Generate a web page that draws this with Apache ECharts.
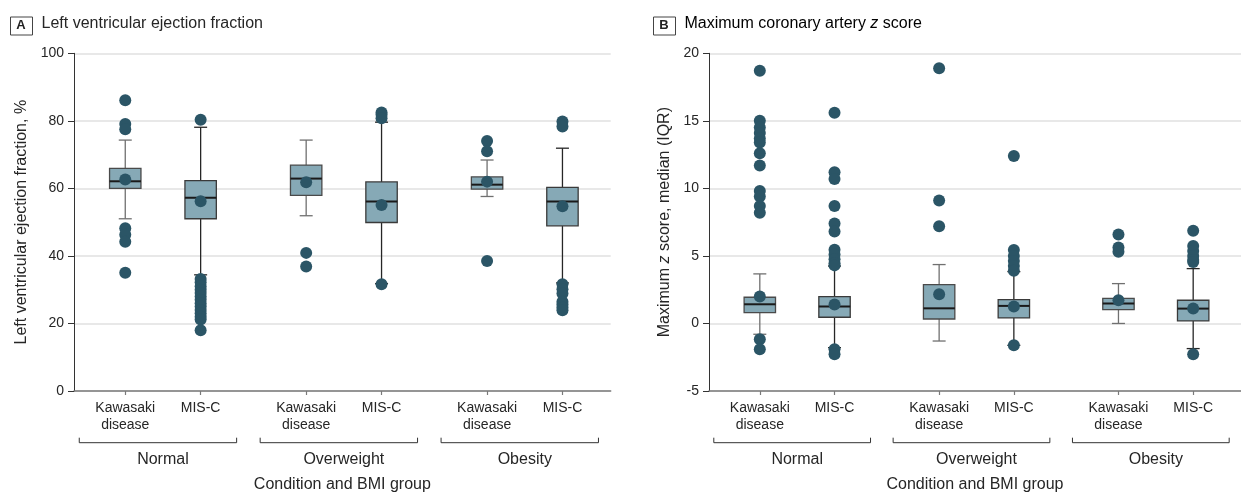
<!DOCTYPE html>
<html><head><meta charset="utf-8">
<script src="https://cdn.jsdelivr.net/npm/echarts@6/dist/echarts.min.js"></script>
<style>html,body{margin:0;padding:0;background:#fff}#c{width:1241px;height:498px}</style>
</head><body><div id="c"></div>
<script>
// ---------- data ----------
const categories = ['Kawasaki\ndisease', 'MIS-C', 'Kawasaki\ndisease', 'MIS-C', 'Kawasaki\ndisease', 'MIS-C'];
const conditionKind = [0, 1, 0, 1, 0, 1];
const groups = ['Normal', 'Overweight', 'Obesity'];
const xPositions = [0, 1, 2.4, 3.4, 4.8, 5.8];

// LVEF: [lower whisker, Q1, median, Q3, upper whisker]
const lvefBoxes = [
  [51.0, 60.0, 62.1, 65.9, 74.3],
  [34.4, 51.0, 57.2, 62.3, 78.1],
  [51.9, 57.9, 62.9, 66.9, 74.3],
  [31.8, 49.9, 56.1, 61.9, 79.6],
  [57.6, 59.8, 61.1, 63.4, 68.4],
  [32.0, 48.9, 56.1, 60.3, 71.9]
];
const lvefMeans = [62.6, 56.2, 61.8, 55.1, 62.0, 54.7];
const lvefOutliers = [
  [86.1, 79.1, 77.5, 48.2, 46.3, 44.2, 35.0],
  [80.3, 33.2, 32.2, 31.0, 30.0, 29.0, 28.0, 27.0, 26.0, 25.0, 24.0, 23.0, 22.0, 21.2, 18.0],
  [40.9, 36.9],
  [82.5, 81.8, 80.8, 31.6],
  [74.0, 71.0, 38.5],
  [79.8, 78.3, 31.6, 30.1, 28.9, 26.4, 25.6, 24.7, 23.9]
];

// Max coronary artery z score
const zBoxes = [
  [-0.80, 0.80, 1.42, 1.94, 3.67],
  [-1.79, 0.46, 1.25, 1.99, 4.25],
  [-1.30, 0.33, 1.12, 2.88, 4.36],
  [-1.62, 0.41, 1.30, 1.77, 3.84],
  [0.00, 1.02, 1.47, 1.86, 2.95],
  [-1.86, 0.19, 1.10, 1.72, 4.06]
];
const zMeans = [1.99, 1.40, 2.16, 1.25, 1.72, 1.10];
const zOutliers = [
  [18.7, 15.0, 14.5, 14.1, 13.7, 13.4, 12.6, 11.7, 9.8, 9.4, 8.7, 8.2, -1.17, -1.91],
  [15.6, 11.2, 10.7, 8.7, 7.4, 6.8, 5.45, 5.1, 4.75, 4.45, 4.3, -1.9, -2.28],
  [18.9, 9.1, 7.2],
  [12.4, 5.44, 5.0, 4.63, 4.26, 3.9, -1.62],
  [6.58, 5.62, 5.3],
  [6.87, 5.74, 5.37, 5.0, 4.7, 4.55, -2.28]
];

// ---------- styles ----------
const F = "'Liberation Sans', Arial, sans-serif";
const TXT = '#262626';
const FILL = '#86a9b6';
const DOT = '#2b5566';

function labelFor(v) {
  let best = 0, d = 1e9;
  xPositions.forEach((p, i) => { if (Math.abs(p - v) < d) { d = Math.abs(p - v); best = i; } });
  return categories[best];
}

function boxData(boxes) {
  return boxes.map((b, i) => [xPositions[i], b[0], b[1], b[2], b[3], b[4], conditionKind[i]]);
}
function pointData(list) {
  const out = [];
  list.forEach((arr, i) => arr.forEach(v => out.push([xPositions[i], v])));
  return out;
}
function meanData(means) { return means.map((m, i) => [xPositions[i], m]); }

function renderBox(params, api) {
  const x = api.value(0);
  const lo = api.coord([x, api.value(1)]);
  const q1 = api.coord([x, api.value(2)]);
  const md = api.coord([x, api.value(3)]);
  const q3 = api.coord([x, api.value(4)]);
  const hi = api.coord([x, api.value(5)]);
  const kind = api.value(6);
  const cx = lo[0];
  const hw = 15.7, cw = 6.5;
  const ws = { stroke: kind === 0 ? '#707070' : '#262626', lineWidth: 1.3 };
  return {
    type: 'group', children: [
      { type: 'line', shape: { x1: cx, y1: hi[1], x2: cx, y2: q3[1] }, style: ws },
      { type: 'line', shape: { x1: cx, y1: q1[1], x2: cx, y2: lo[1] }, style: ws },
      { type: 'line', shape: { x1: cx - cw, y1: hi[1], x2: cx + cw, y2: hi[1] }, style: ws },
      { type: 'line', shape: { x1: cx - cw, y1: lo[1], x2: cx + cw, y2: lo[1] }, style: ws },
      { type: 'rect', shape: { x: cx - hw, y: q3[1], width: 2 * hw, height: q1[1] - q3[1] },
        style: { fill: FILL, stroke: kind === 0 ? '#4a4a4a' : '#3a3a3a', lineWidth: 1.3 } },
      { type: 'line', shape: { x1: cx - hw, y1: md[1], x2: cx + hw, y2: md[1] }, style: { stroke: '#1a1a1a', lineWidth: 2 } }
    ]
  };
}

function xAxisCfg(gi) {
  return {
    type: 'value', gridIndex: gi, min: -0.68, max: 6.44,
    name: 'Condition and BMI group', nameLocation: 'middle', nameGap: 86,
    nameTextStyle: { fontSize: 16, color: TXT, fontFamily: F },
    axisLine: { show: true, onZero: false, lineStyle: { color: '#7a7a7a', width: 1.5 } },
    axisTick: { show: true, customValues: xPositions, length: 4, lineStyle: { color: '#7a7a7a', width: 1.2 } },
    axisLabel: { customValues: xPositions, formatter: v => labelFor(v), fontSize: 14, lineHeight: 17,
      margin: 9, color: TXT, fontFamily: F },
    splitLine: { show: false }
  };
}
function yAxisCfg(gi, min, max, interval, name, gap, rich) {
  const o = {
    type: 'value', gridIndex: gi, min: min, max: max, interval: interval,
    name: name, nameLocation: 'middle', nameGap: gap,
    nameTextStyle: { fontSize: 16, color: TXT, fontFamily: F },
    axisLine: { show: true, onZero: false, lineStyle: { color: '#333', width: 1 } },
    axisTick: { show: true, length: 6, lineStyle: { color: '#333' } },
    axisLabel: { fontSize: 14, color: TXT, margin: 10, fontFamily: F },
    splitLine: { show: true, lineStyle: { color: '#e0e0e0', width: 1.5 } }
  };
  if (rich) o.nameTextStyle.rich = rich;
  return o;
}

const chart = echarts.init(document.getElementById('c'), null, { renderer: 'canvas' });
const zRich = {
  a: { fontSize: 16, color: TXT, fontFamily: F },
  i: { fontSize: 16, color: TXT, fontFamily: F, fontStyle: 'italic' }
};
chart.setOption({
  animation: false,
  backgroundColor: '#fff',
  grid: [
    { left: 74, right: 630.3, top: 53.3, bottom: 105.7 },
    { left: 709, right: -4.7, top: 53.3, bottom: 105.7 }
  ],
  xAxis: [xAxisCfg(0), xAxisCfg(1)],
  yAxis: [
    yAxisCfg(0, 0, 100, 20, 'Left ventricular ejection fraction, %', 44),
    yAxisCfg(1, -5, 20, 5, '{a|Maximum }{i|z}{a| score, median (IQR)}', 36, zRich)
  ],
  series: [
    { type: 'custom', xAxisIndex: 0, yAxisIndex: 0, renderItem: renderBox, data: boxData(lvefBoxes),
      encode: { x: 0, y: [1, 2, 3, 4, 5] }, silent: true, z: 2 },
    { type: 'scatter', xAxisIndex: 0, yAxisIndex: 0, data: pointData(lvefOutliers), symbolSize: 12,
      itemStyle: { color: DOT, opacity: 1 }, silent: true, z: 3 },
    { type: 'scatter', xAxisIndex: 0, yAxisIndex: 0, data: meanData(lvefMeans), symbolSize: 12,
      itemStyle: { color: DOT, opacity: 1 }, silent: true, z: 4 },
    { type: 'custom', xAxisIndex: 1, yAxisIndex: 1, renderItem: renderBox, data: boxData(zBoxes),
      encode: { x: 0, y: [1, 2, 3, 4, 5] }, silent: true, z: 2 },
    { type: 'scatter', xAxisIndex: 1, yAxisIndex: 1, data: pointData(zOutliers), symbolSize: 12,
      itemStyle: { color: DOT, opacity: 1 }, silent: true, z: 3 },
    { type: 'scatter', xAxisIndex: 1, yAxisIndex: 1, data: meanData(zMeans), symbolSize: 12,
      itemStyle: { color: DOT, opacity: 1 }, silent: true, z: 4 }
  ]
});

// ---------- panel titles, group brackets and group labels ----------
const graphics = [];
function panelTitle(x, letter, textEl) {
  graphics.push({ type: 'rect', left: x, top: 16.5, shape: { width: 22, height: 18 },
    style: { fill: '#fff', stroke: '#444', lineWidth: 1 } });
  graphics.push({ type: 'text', x: x + 11, y: 25.5, style: { text: letter, font: 'bold 13px ' + F,
    fill: '#222', textAlign: 'center', textVerticalAlign: 'middle' } });
  graphics.push(textEl);
}
panelTitle(10, 'A', { type: 'text', x: 41.5, y: 24, style: { text: 'Left ventricular ejection fraction',
  fontSize: 16, fontFamily: F, fill: TXT, textAlign: 'left', textVerticalAlign: 'middle' } });
panelTitle(653, 'B', { type: 'text', x: 684.5, y: 24, style: {
  text: '{a|Maximum coronary artery }{i|z}{a| score}', rich: zRich,
  textAlign: 'left', textVerticalAlign: 'middle' } });

[0, 1].forEach(ai => {
  const base = chart.convertToPixel({ yAxisIndex: ai }, ai === 0 ? 0 : -5);
  const by = base + 51.7;
  groups.forEach((g, gi) => {
    const k = xPositions[gi * 2], m = xPositions[gi * 2 + 1];
    const xk = chart.convertToPixel({ xAxisIndex: ai }, k);
    const xm = chart.convertToPixel({ xAxisIndex: ai }, m);
    const x1 = xk - 46, x2 = xm + 36;
    graphics.push({ type: 'polyline', shape: { points: [[x1, by - 5], [x1, by], [x2, by], [x2, by - 5]] },
      style: { stroke: '#333', lineWidth: 1, fill: null } });
    graphics.push({ type: 'text', x: (xk + xm) / 2, y: base + 68.4, style: { text: g, fontSize: 16,
      fontFamily: F, fill: TXT, textAlign: 'center', textVerticalAlign: 'middle' } });
  });
});
chart.setOption({ graphic: graphics });
</script></body></html>
